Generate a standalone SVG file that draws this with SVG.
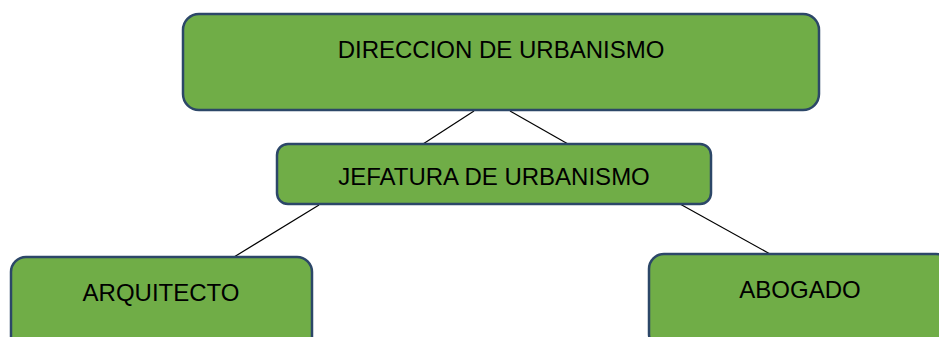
<svg xmlns="http://www.w3.org/2000/svg" width="939" height="337" viewBox="0 0 939 337">
<style>
.box{fill:#70AD47;stroke:#2C4768;stroke-width:2.5}
.lbl{font-family:"Liberation Sans",Arial,sans-serif;font-size:24px;fill:#000;text-anchor:middle}
.conn line{stroke:#000;stroke-width:1.2}
</style>
<rect width="939" height="337" fill="#fff"/>
<g class="conn" id="connectors">
<line x1="474" y1="111" x2="423" y2="144"/>
<line x1="510" y1="111" x2="568" y2="144"/>
<line x1="319" y1="205" x2="234" y2="257"/>
<line x1="680" y1="204" x2="770" y2="254"/>
</g>
<g id="direccion">
<rect class="box" x="183" y="14" width="636" height="96" rx="16"/>
<text class="lbl" x="501" y="58">DIRECCION DE URBANISMO</text>
</g>
<g id="jefatura">
<rect class="box" x="277" y="144" width="434" height="60" rx="11"/>
<text class="lbl" x="494" y="185">JEFATURA DE URBANISMO</text>
</g>
<g id="arquitecto">
<rect class="box" x="11" y="257" width="301" height="95" rx="15"/>
<text class="lbl" x="161" y="301">ARQUITECTO</text>
</g>
<g id="abogado">
<rect class="box" x="649" y="254" width="302" height="95" rx="15"/>
<text class="lbl" x="800" y="298">ABOGADO</text>
</g>
</svg>
